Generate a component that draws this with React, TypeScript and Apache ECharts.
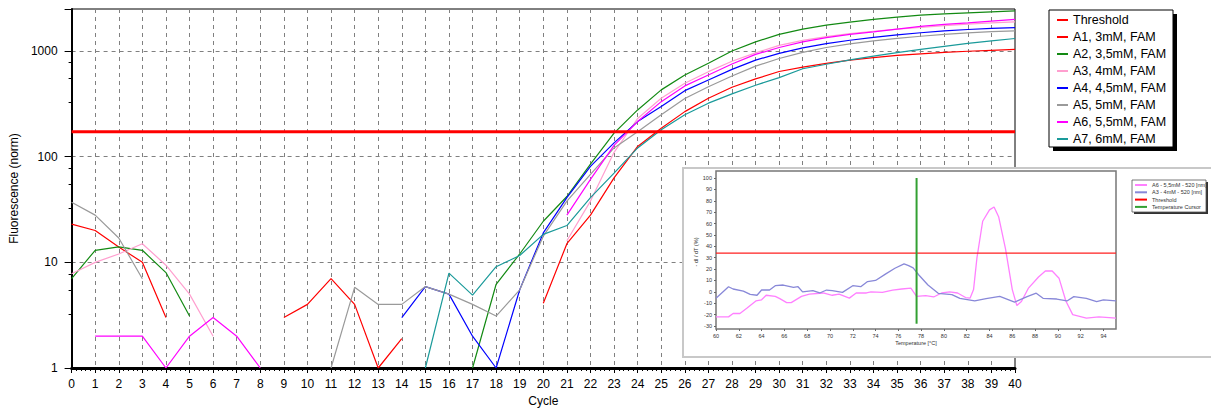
import React, { useEffect, useRef } from 'react';
import * as echarts from 'echarts';

const FONT = '"Liberation Sans", Arial, sans-serif';

// ---------- main amplification plot ----------
const cycles = [0, 1, 2, 3, 4, 5, 6, 7, 8, 9, 10, 11, 12, 13, 14, 15, 16, 17, 18, 19, 20,
  21, 22, 23, 24, 25, 26, 27, 28, 29, 30, 31, 32, 33, 34, 35, 36, 37, 38, 39, 40];

const thresholdValue = 172;

const a1: (number | null)[] = [23, 20, 14, 10, 3, null, null, null, null, 3, 4, 7, 4, 1, 1.9,
  null, null, null, null, null, 4.1, 15, 28, 63, 125, 186, 267, 358, 454, 545, 640,
  705, 765, 820, 868, 908, 942, 970, 995, 1015, 1035];
const a2: (number | null)[] = [7, 13, 14, 13, 8, 3.1, null, null, null, null, null, null, null,
  null, null, null, null, 1, 6.2, 12, 24.5, 42, 85, 167, 277, 429, 594, 765, 1000, 1220,
  1440, 1610, 1760, 1880, 1990, 2090, 2186, 2250, 2300, 2350, 2400];
const a3: (number | null)[] = [7.8, 10, 12, 15, 9.4, 5, 2, null, null, null, null, null, null,
  null, null, null, null, null, null, null, null, 16, 38, 110, 230, 358, 496, 638, 800,
  960, 1130, 1260, 1370, 1460, 1540, 1610, 1670, 1740, 1800, 1850, 1890];
const a4: (number | null)[] = [null, null, null, null, null, null, null, null, null, null, null,
  null, null, null, 3, 5.9, 5, 2, 1, 5.5, 19, 41, 81, 135, 215, 298, 422, 532, 671, 820,
  950, 1070, 1175, 1265, 1346, 1420, 1489, 1550, 1600, 1640, 1668];
const a5: (number | null)[] = [37, 28, 17, 7, null, null, null, null, null, null, null, 1, 5.8,
  4, 4, 5.9, 5, 4, 3.1, 5.5, 17.7, 38, 68, 121, 172, 249, 355, 460, 581, 720, 850, 970,
  1080, 1170, 1250, 1320, 1381, 1440, 1489, 1525, 1553];
const a6: (number | null)[] = [null, 2, 2, 2, 1, 2, 3, 2, 1, null, null, null, null, null, null,
  null, null, null, null, null, null, 28, 61, 128, 215, 332, 468, 594, 754, 930, 1080,
  1220, 1340, 1440, 1520, 1610, 1710, 1790, 1850, 1920, 1990];
const a7: (number | null)[] = [null, null, null, null, null, null, null, null, null, null, null,
  null, null, null, null, 1, 7.9, 4.9, 9.1, 11.6, 18.4, 22.3, 41, 70, 121, 180, 249, 321,
  393, 475, 560, 680, 750, 825, 895, 965, 1035, 1105, 1180, 1250, 1315];

const sampleNames = ['A1, 3mM, FAM', 'A2, 3,5mM, FAM', 'A3, 4mM, FAM', 'A4, 4,5mM, FAM',
  'A5, 5mM, FAM', 'A6, 5,5mM, FAM', 'A7, 6mM, FAM'];
const sampleValues = [a1, a2, a3, a4, a5, a6, a7];
const sampleColors = ['#ff0000', '#138a13', '#ff9fcf', '#0000ff', '#9a9a9a', '#ff00ff', '#1a9a9a'];

// ---------- inset melt-curve plot ----------
const meltA6: [number, number][] = [[60, -22], [61.1, -22], [61.5, -19], [62.1, -19], [62.7, -14.5],
  [63.5, -8], [64, -7], [64.4, -3], [65.2, -4], [65.6, -6], [66.2, -9.5], [66.6, -9.5], [67.5, -4],
  [68.2, -2], [69.4, -1], [70.2, -3], [70.8, -2], [71.7, -5.5], [72.3, -1], [73.2, -1], [73.6, 0],
  [74.6, -0.5], [75.5, 1.5], [76.3, 2.5], [77.1, 3.2], [77.6, -4], [78.4, -3.3], [79.1, -4.5],
  [79.8, -1], [80.5, 0], [81.2, -1], [81.9, -5], [82.3, -5.5], [82.6, 2], [82.9, 30], [83.4, 62],
  [84, 72], [84.4, 74.5], [84.8, 66], [85.4, 38], [86, 2], [86.4, -12], [86.8, -8.5], [87.4, 3],
  [88.3, 13], [88.9, 18.3], [89.5, 18.3], [90.1, 12], [90.7, -8], [91.3, -20], [92.5, -23],
  [93.6, -22], [95.1, -23]];
const meltA3: [number, number][] = [[60, -5.7], [61.1, 4.5], [61.5, 2.5], [62.4, 0.7], [63, -2.2],
  [63.6, -3], [64, 1.6], [64.7, 1.6], [65.2, 5.4], [65.9, 6], [66.8, 4], [67.2, 4.5], [67.6, 0],
  [68.5, 1], [69.1, -1], [69.7, 1.6], [70.2, 1], [71.1, -0.5], [72, 5.4], [72.7, 4.5], [73.3, 9],
  [74, 10], [74.9, 15.8], [75.7, 20.7], [76.5, 24.5], [76.9, 23], [77.3, 21], [77.8, 14.8],
  [78.6, 6], [79.5, -1.3], [80.7, -2.5], [81.4, -5.7], [82.7, -8], [83.7, -6], [84.9, -4],
  [86.2, -9], [87.3, -4.2], [88.1, -1.2], [88.7, -5.7], [89.9, -6.3], [90.8, -8], [91.4, -4.2],
  [92.5, -5.7], [93.4, -8.5], [94, -7], [95.1, -8]];
const meltThreshold = 34;
const cursorTemp = 77.6;
const meltNames = ['A6 - 5,5mM - 520 [nm]', 'A3 - 4mM - 520 [nm]', 'Threshold', 'Temperature Cursor'];

function isPow10(v: number) {
  const l = Math.log10(v);
  return Math.abs(l - Math.round(l)) < 1e-6;
}

export default function App() {
  const ref = useRef<HTMLDivElement>(null);
  useEffect(() => {
    if (!ref.current) return;
    const chart = echarts.init(ref.current, undefined, { renderer: 'svg' });

    const sampleSeries = sampleNames.map((name, k) => ({
      name,
      type: 'line',
      xAxisIndex: 0,
      yAxisIndex: 0,
      data: cycles.map((c, i) => [c, sampleValues[k][i] == null ? '-' : sampleValues[k][i]]),
      symbol: 'none',
      lineStyle: { color: sampleColors[k], width: 1.2 },
      itemStyle: { color: sampleColors[k] },
      z: 2,
    }));

    const option: any = {
      animation: false,
      backgroundColor: '#ffffff',
      textStyle: { fontFamily: FONT },
      grid: [
        { left: 67, top: 9, width: 948, height: 360, show: true, borderColor: '#000', borderWidth: 1, backgroundColor: 'transparent' },
        { left: 716, top: 178, width: 400, height: 148, z: 12 },
      ],
      xAxis: [
        {
          type: 'value', gridIndex: 0, min: 0, max: 40, interval: 1,
          name: 'Cycle', nameLocation: 'middle', nameGap: 27,
          nameTextStyle: { fontSize: 12, color: '#000', fontFamily: FONT },
          axisLine: { show: true, onZero: false, lineStyle: { color: '#000', width: 3 } },
          axisTick: { show: true, length: 5, lineStyle: { color: '#000' } },
          minorTick: { show: true, splitNumber: 5, length: 3, lineStyle: { color: '#000' } },
          axisLabel: { fontSize: 12, color: '#000', margin: 10, fontFamily: FONT },
          splitLine: { show: true, showMinLine: false, showMaxLine: false, lineStyle: { color: '#808080', type: [4, 4], width: 1 } },
        },
        {
          type: 'value', gridIndex: 1, min: 60, max: 95.1, interval: 2, offset: 3, z: 12,
          name: 'Temperature [°C]', nameLocation: 'middle', nameGap: 11,
          nameTextStyle: { fontSize: 5.5, color: '#333', fontFamily: FONT },
          axisLine: { show: false, onZero: false },
          axisTick: { show: true, length: 2, lineStyle: { color: '#666' } },
          axisLabel: { fontSize: 5.5, color: '#333', margin: 4, showMaxLabel: false, fontFamily: FONT },
          splitLine: { show: false },
        },
      ],
      yAxis: [
        {
          type: 'log', logBase: 10, gridIndex: 0, min: 1, max: 2500,
          name: 'Fluorescence (norm)', nameLocation: 'middle', nameGap: 38,
          nameTextStyle: { fontSize: 12, color: '#000', fontFamily: FONT },
          axisLine: { show: true, onZero: false, lineStyle: { color: '#000', width: 2 } },
          axisTick: { show: true, length: 7, lineStyle: { color: '#000' } },
          minorTick: { show: true, splitNumber: 4, length: 3, lineStyle: { color: '#000' } },
          axisLabel: {
            fontSize: 12, color: '#000', margin: 14, fontFamily: FONT,
            formatter: (v: number) => (isPow10(v) ? String(Math.round(v)) : ''),
          },
          splitLine: { show: true, showMinLine: false, showMaxLine: false, lineStyle: { color: '#808080', type: [4, 4], width: 1 } },
        },
        {
          type: 'value', gridIndex: 1, min: -30, max: 100, interval: 10, z: 12,
          name: '- dI / dT (%)', nameLocation: 'middle', nameGap: 12,
          nameTextStyle: { fontSize: 5.5, color: '#333', fontFamily: FONT },
          axisLine: { show: false, onZero: false },
          axisTick: { show: true, length: 2, lineStyle: { color: '#666' } },
          axisLabel: { fontSize: 5.5, color: '#333', margin: 4, fontFamily: FONT },
          splitLine: { show: false },
        },
      ],
      legend: [
        {
          orient: 'vertical', left: 1049, top: 10, padding: [3, 6, 2, 8],
          itemWidth: 11, itemHeight: 2, itemGap: 3, icon: 'rect',
          textStyle: { fontSize: 12.5, color: '#000', lineHeight: 14, fontFamily: FONT },
          data: ['Threshold', ...sampleNames],
          selectedMode: false, z: 4,
        },
        {
          orient: 'vertical', left: 1133, top: 181, padding: [1, 2, 1, 2],
          itemWidth: 12, itemHeight: 2, itemGap: 1.3, icon: 'rect',
          textStyle: { fontSize: 5.5, color: '#333', lineHeight: 6, fontFamily: FONT },
          data: meltNames,
          selectedMode: false, z: 15,
        },
      ],
      graphic: [
        { type: 'rect', z: 1, shape: { x: 1053, y: 14, width: 124, height: 137 }, style: { fill: '#000' }, silent: true },
        { type: 'rect', z: 2, shape: { x: 1049, y: 10, width: 124, height: 137 }, style: { fill: '#fff', stroke: '#000', lineWidth: 1 }, silent: true },
        { type: 'rect', z: 10, shape: { x: 683, y: 168, width: 540, height: 189 }, style: { fill: '#fff', stroke: '#c8c8c8', lineWidth: 2 }, silent: true },
        { type: 'rect', z: 11, shape: { x: 716, y: 171, width: 400, height: 158 }, style: { fill: 'none', stroke: '#777', lineWidth: 1.5 }, silent: true },
        { type: 'rect', z: 13, shape: { x: 1134, y: 182, width: 74, height: 32 }, style: { fill: '#333' }, silent: true },
        { type: 'rect', z: 14, shape: { x: 1132, y: 180, width: 74, height: 32 }, style: { fill: '#fff', stroke: '#555', lineWidth: 0.8 }, silent: true },
      ],
      series: [
        {
          name: 'Threshold', type: 'line', xAxisIndex: 0, yAxisIndex: 0,
          data: [[0, thresholdValue], [40, thresholdValue]], symbol: 'none',
          lineStyle: { color: '#ff0000', width: 3 }, itemStyle: { color: '#ff0000' }, z: 3,
        },
        ...sampleSeries,
        {
          name: meltNames[0], type: 'line', xAxisIndex: 1, yAxisIndex: 1, data: meltA6, symbol: 'none',
          lineStyle: { color: '#ff80ff', width: 1.3 }, itemStyle: { color: '#ff80ff' }, z: 13,
        },
        {
          name: meltNames[1], type: 'line', xAxisIndex: 1, yAxisIndex: 1, data: meltA3, symbol: 'none',
          lineStyle: { color: '#8888d8', width: 1.3 }, itemStyle: { color: '#8888d8' }, z: 13,
        },
        {
          name: 'Threshold', type: 'line', xAxisIndex: 1, yAxisIndex: 1,
          data: [[60, meltThreshold], [95.1, meltThreshold]], symbol: 'none',
          lineStyle: { color: '#ff2020', width: 1.3 }, itemStyle: { color: '#ff2020' }, z: 13,
        },
        {
          name: meltNames[3], type: 'line', xAxisIndex: 1, yAxisIndex: 1,
          data: [[cursorTemp, -28], [cursorTemp, 100]], symbol: 'none',
          lineStyle: { color: '#33a033', width: 2 }, itemStyle: { color: '#33a033' }, z: 13,
        },
      ],
    };

    chart.setOption(option);
    return () => chart.dispose();
  }, []);

  return <div ref={ref} style={{ position: 'fixed', left: 0, top: 0, width: 1211, height: 412 }} />;
}
